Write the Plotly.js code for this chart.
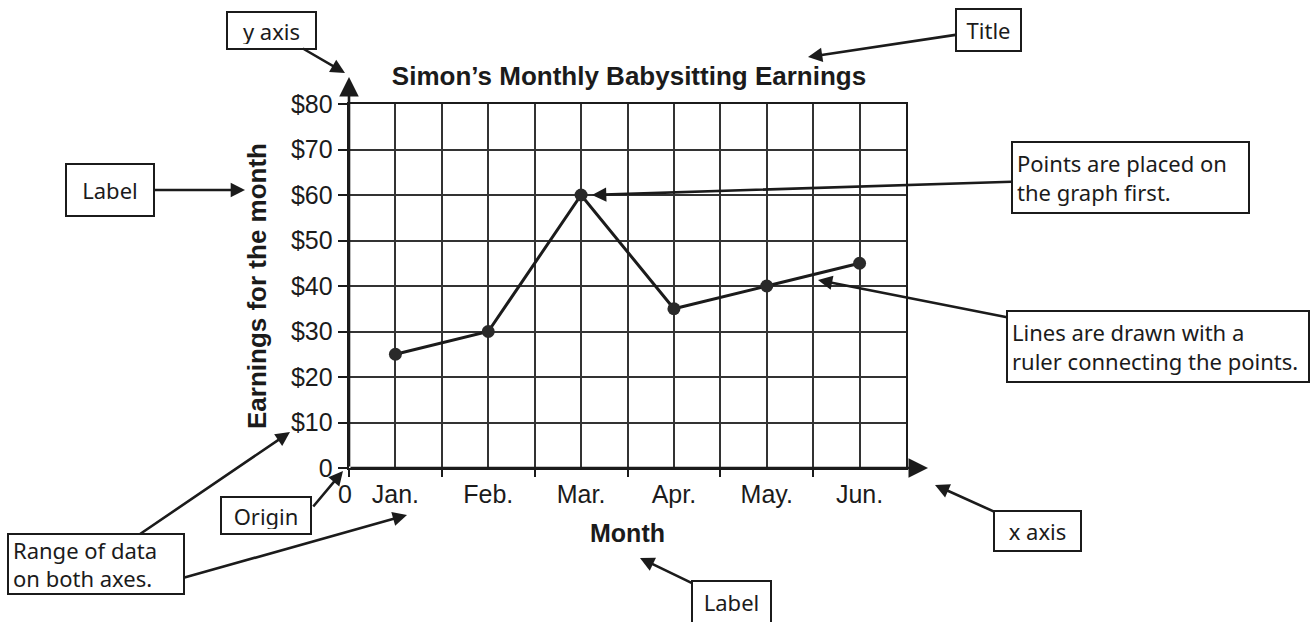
<!DOCTYPE html>
<html>
<head>
<meta charset="utf-8">
<script src="https://cdn.plot.ly/plotly-3.0.1.min.js"></script>
<style>
  html, body { margin: 0; padding: 0; background: #ffffff; }
  #chart { width: 1313px; height: 622px; }
</style>
</head>
<body>
<div id="chart"></div>
<script>
// ---- data ----
const months = ['Jan.', 'Feb.', 'Mar.', 'Apr.', 'May.', 'Jun.'];
const earnings = [25, 30, 60, 35, 40, 45];
const yTickVals = [0, 10, 20, 30, 40, 50, 60, 70, 80];
const yTickText = ['0', '$10', '$20', '$30', '$40', '$50', '$60', '$70', '$80'];
const chartTitle = 'Simon\u2019s Monthly Babysitting Earnings';
const xTitle = 'Month';
const yTitle = 'Earnings for the month';

// ---- geometry helpers (pixels -> paper, margins are 0) ----
const W = 1313, H = 622;
const px = v => v / W;
const py = v => 1 - v / H;

const ink = '#1b1b1b';
const sans = 'Liberation Sans, Arial, sans-serif';
const boxFont = { family: 'Noto Sans, DejaVu Sans, sans-serif', size: 22, color: ink };

function callout(text, cx, cy, hx, hy, w, h, align) {
  return {
    xref: 'paper', yref: 'paper', x: px(hx), y: py(hy),
    ax: cx - hx, ay: cy - hy, axref: 'pixel', ayref: 'pixel',
    text: text, showarrow: true, arrowhead: 2, arrowsize: 1.1, arrowwidth: 2.6,
    arrowcolor: ink, font: boxFont, align: align || 'center',
    width: w, height: h, bordercolor: ink, borderwidth: 2, borderpad: 4,
    bgcolor: '#ffffff'
  };
}
function box(text, cx, cy, w, h, align) {
  return {
    xref: 'paper', yref: 'paper', x: px(cx), y: py(cy), xanchor: 'center', yanchor: 'middle',
    text: text, showarrow: false, font: boxFont, align: align || 'center',
    width: w, height: h, bordercolor: ink, borderwidth: 2, borderpad: 4, bgcolor: '#ffffff'
  };
}
function bareArrow(tx, ty, hx, hy) {
  return {
    xref: 'paper', yref: 'paper', x: px(hx), y: py(hy),
    ax: tx - hx, ay: ty - hy, axref: 'pixel', ayref: 'pixel',
    text: '', showarrow: true, arrowhead: 2, arrowsize: 1.1, arrowwidth: 2.6,
    arrowcolor: ink
  };
}

const annotations = [
  // axis arrows
  { xref: 'x', yref: 'paper', x: 0, y: py(77), ax: 0, ay: 391, text: '', showarrow: true,
    arrowhead: 2, arrowsize: 1.5, arrowwidth: 2.6, arrowcolor: ink },
  { xref: 'paper', yref: 'y', x: px(928), y: 0, ax: -579, ay: 0, text: '', showarrow: true,
    arrowhead: 2, arrowsize: 1.5, arrowwidth: 2.6, arrowcolor: ink },
  // origin "0" on the x axis
  { xref: 'paper', yref: 'paper', x: px(345), y: py(494), text: '0', showarrow: false,
    xanchor: 'center', yanchor: 'middle',
    font: { family: sans, size: 25, color: ink } },
  // callouts
  callout('y axis', 271, 30, 345, 73, 79, 27),
  callout('Label', 110, 190, 245, 190, 78, 42),
  callout('Title', 988, 30, 808, 57, 55, 32),
  callout('Points are placed on<br>the graph first.', 1130, 178, 592, 195, 227, 61, 'left'),
  callout('Lines are drawn with a<br>ruler connecting the points.', 1158, 347, 818, 280, 292, 61, 'left'),
  callout('Range of data<br>on both axes.', 96, 564, 290, 432, 166, 50, 'left'),
  bareArrow(183, 578, 407, 515),
  box('Origin', 266, 515, 80, 27),
  bareArrow(312, 508, 343, 471),
  callout('x axis', 1037, 531, 935, 485, 77, 30),
  callout('Label', 731, 602, 640, 558, 69, 32)
];

const data = [
  { x: [], y: [], xaxis: 'x', yaxis: 'y', type: 'scatter', hoverinfo: 'skip', showlegend: false },
  {
    x: months, y: earnings, xaxis: 'x2', yaxis: 'y', type: 'scatter',
    mode: 'lines+markers', cliponaxis: false, showlegend: false,
    line: { color: ink, width: 3 },
    marker: { size: 13, color: '#2a2a2a', line: { width: 0 } }
  }
];

const layout = {
  width: W, height: H,
  margin: { l: 0, r: 0, t: 0, b: 0 },
  paper_bgcolor: '#ffffff', plot_bgcolor: '#ffffff',
  showlegend: false,
  title: {
    text: '<b>' + chartTitle + '</b>',
    x: px(629), y: py(76), xanchor: 'center', yanchor: 'middle', xref: 'paper', yref: 'paper',
    font: { family: sans, size: 26, color: ink }
  },
  xaxis: {
    domain: [px(349), px(906)], range: [0, 12], tick0: 0, dtick: 1,
    showgrid: true, gridcolor: '#333333', gridwidth: 2,
    showticklabels: false, ticks: '', zeroline: false,
    showline: true, mirror: true, linecolor: ink, linewidth: 2.4, automargin: false, fixedrange: true
  },
  xaxis2: {
    overlaying: 'x', anchor: 'y', side: 'bottom', type: 'category',
    range: [-0.5, 5.5], tickson: 'boundaries', ticks: 'outside', ticklen: 8,
    tickwidth: 2, tickcolor: ink, showgrid: false, zeroline: false, showline: false,
    ticklabelstandoff: 9,
    tickfont: { family: sans, size: 25, color: ink },
    title: { text: '<b>' + xTitle + '</b>', font: { family: sans, size: 25, color: ink }, standoff: 17 },
    automargin: false, fixedrange: true
  },
  yaxis: {
    domain: [py(468), py(104)], range: [0, 80],
    tickmode: 'array', tickvals: yTickVals, ticktext: yTickText,
    ticks: 'outside', ticklen: 9, tickwidth: 2, tickcolor: ink,
    showgrid: true, gridcolor: '#333333', gridwidth: 2, zeroline: false,
    showline: true, mirror: true, linecolor: ink, linewidth: 2.4,
    tickfont: { family: sans, size: 25, color: ink },
    title: { text: '<b>' + yTitle + '</b>', font: { family: sans, size: 26, color: ink }, standoff: 17 },
    automargin: false, fixedrange: true
  },
  annotations: annotations
};

Plotly.newPlot('chart', data, layout, { displayModeBar: false, staticPlot: true });
</script>
</body>
</html>
